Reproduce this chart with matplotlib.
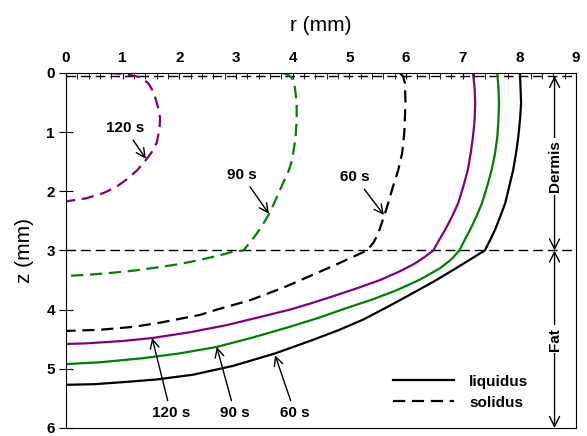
import matplotlib.pyplot as plt
from matplotlib.ticker import MultipleLocator

plt.rcParams['font.family'] = ['Liberation Sans', 'DejaVu Sans']

# solidus curves (r mm, z mm)
sol120_r = [0.76, 1.05, 1.31, 1.45, 1.55, 1.62, 1.66, 1.65, 1.60, 1.52, 1.41, 1.25, 1.07, 0.88, 0.66, 0.35, 0.07, 0.0]
sol120_z = [0.00, 0.02, 0.07, 0.17, 0.33, 0.57, 0.76, 0.95, 1.18, 1.33, 1.47, 1.65, 1.80, 1.93, 2.03, 2.12, 2.16, 2.17]
sol90_r = [3.83, 3.92, 3.99, 4.04, 4.07, 4.07, 4.05, 3.99, 3.93, 3.83, 3.72, 3.59, 3.48, 3.37, 3.25, 3.13,
           2.95, 2.72, 2.36, 2.00, 1.66, 1.20, 0.78, 0.40, 0.0]
sol90_z = [0.00, 0.03, 0.09, 0.25, 0.51, 0.80, 1.10, 1.47, 1.65, 1.86, 2.10, 2.37, 2.55, 2.71, 2.86, 3.00,
           3.02, 3.08, 3.16, 3.23, 3.28, 3.34, 3.38, 3.41, 3.43]
sol60_r = [5.89, 5.95, 5.98, 5.99, 5.97, 5.93, 5.86, 5.77, 5.70, 5.63, 5.51, 5.43, 5.31,
           4.83, 4.43, 3.83, 3.25, 2.66, 2.36, 1.66, 1.20, 0.60, 0.0]
sol60_z = [0.00, 0.06, 0.17, 0.51, 1.00, 1.36, 1.65, 1.92, 2.15, 2.37, 2.71, 2.86, 3.00,
           3.21, 3.38, 3.63, 3.84, 4.00, 4.09, 4.22, 4.29, 4.34, 4.36]

# liquidus curves
liq120_r = [7.18, 7.21, 7.22, 7.21, 7.18, 7.14, 7.09, 7.01, 6.92, 6.81, 6.69, 6.58, 6.48,
            6.30, 6.12, 5.85, 5.54, 5.10, 4.66, 4.30, 3.95, 3.40, 2.84, 2.20, 1.52, 1.00, 0.35, 0.0]
liq120_z = [0.00, 0.25, 0.51, 0.80, 1.08, 1.36, 1.64, 1.92, 2.20, 2.43, 2.65, 2.83, 3.00,
            3.13, 3.24, 3.37, 3.50, 3.65, 3.79, 3.90, 4.00, 4.13, 4.26, 4.38, 4.48, 4.53, 4.57, 4.58]
liq90_r = [7.61, 7.63, 7.64, 7.63, 7.61, 7.57, 7.51, 7.43, 7.34, 7.24, 7.13, 7.03, 6.94,
           6.80, 6.60, 6.25, 5.84, 5.40, 4.96, 4.45, 3.95, 3.30, 2.66, 2.00, 1.36, 0.60, 0.0]
liq90_z = [0.00, 0.25, 0.51, 0.80, 1.08, 1.36, 1.64, 1.92, 2.20, 2.43, 2.65, 2.83, 3.00,
           3.15, 3.30, 3.49, 3.67, 3.83, 3.97, 4.14, 4.29, 4.47, 4.63, 4.74, 4.82, 4.89, 4.92]
liq60_r = [8.01, 8.02, 8.03, 8.01, 7.98, 7.94, 7.89, 7.82, 7.75, 7.66, 7.57, 7.48, 7.39,
           7.10, 6.83, 6.48, 6.12, 5.68, 5.24, 4.80, 4.36, 3.69, 2.95, 2.24, 1.60, 1.08, 0.50, 0.0]
liq60_z = [0.00, 0.25, 0.51, 0.80, 1.08, 1.36, 1.64, 1.92, 2.20, 2.43, 2.65, 2.83, 3.00,
           3.17, 3.33, 3.53, 3.72, 3.95, 4.17, 4.35, 4.51, 4.74, 4.95, 5.10, 5.18, 5.22, 5.26, 5.27]

skin_top = 0.05
dermis_fat = 3.0

purple = '#800080'
green = '#008000'

fig = plt.figure(figsize=(5.87, 4.36), dpi=100)
ax = fig.add_axes([0.1124, 0.0184, 0.869, 0.8142])

ax.axhline(skin_top, color='black', lw=1, ls=(0, (7, 3.5)))
ax.axhline(dermis_fat, color='black', lw=1, ls=(0, (7, 3.5)))

dash = (0, (5.5, 3))
ax.plot(sol120_r, sol120_z, color=purple, lw=1.6, ls=dash)
ax.plot(sol90_r, sol90_z, color=green, lw=1.6, ls=dash)
ax.plot(sol60_r, sol60_z, color='black', lw=1.6, ls=dash)
ax.plot(liq120_r, liq120_z, color=purple, lw=1.6)
ax.plot(liq90_r, liq90_z, color=green, lw=1.6)
ax.plot(liq60_r, liq60_z, color='black', lw=1.6)

# legend (black proxies)
ax.plot([], [], color='black', lw=1.6, label='liquidus')
ax.plot([], [], color='black', lw=1.6, ls=dash, label='solidus')
ax.legend(loc='upper left', bbox_to_anchor=(0.641, 0.15), frameon=False,
          borderpad=0, borderaxespad=0, handlelength=4.0, handletextpad=1.0,
          labelspacing=0.45, prop={'weight': 'bold', 'size': 11})

arrow = dict(arrowstyle='->', lw=1, color='black', mutation_scale=16, shrinkA=2, shrinkB=0)
lab = dict(ha='center', va='center', fontsize=11, fontweight='bold')
ax.annotate('120 s', xy=(1.41, 1.45), xytext=(1.04, 0.93), arrowprops=arrow, **lab)
ax.annotate('90 s', xy=(3.58, 2.38), xytext=(3.10, 1.72), arrowprops=arrow, **lab)
ax.annotate('60 s', xy=(5.61, 2.40), xytext=(5.10, 1.76), arrowprops=arrow, **lab)
ax.annotate('120 s', xy=(1.52, 4.48), xytext=(1.85, 5.75), arrowprops=arrow, **lab)
ax.annotate('90 s', xy=(2.66, 4.63), xytext=(2.98, 5.75), arrowprops=arrow, **lab)
ax.annotate('60 s', xy=(3.69, 4.77), xytext=(4.04, 5.75), arrowprops=arrow, **lab)

# layer markers
layer = dict(arrowstyle='<->', lw=1, color='black', mutation_scale=18, shrinkA=0, shrinkB=0)
ax.annotate('', xy=(8.62, skin_top), xytext=(8.62, dermis_fat), arrowprops=layer)
ax.annotate('', xy=(8.62, dermis_fat), xytext=(8.62, 6.0), arrowprops=layer)
box = dict(fc='white', ec='none', pad=2)
ax.text(8.62, 1.58, 'Dermis', rotation=90, ha='center', va='center',
        fontsize=11, fontweight='bold', bbox=box)
ax.text(8.62, 4.5, 'Fat', rotation=90, ha='center', va='center',
        fontsize=11, fontweight='bold', bbox=box)

ax.set_xlim(0, 9)
ax.set_ylim(6, 0)
ax.xaxis.tick_top()
ax.xaxis.set_label_position('top')
ax.xaxis.set_major_locator(MultipleLocator(1))
ax.xaxis.set_minor_locator(MultipleLocator(0.2))
ax.yaxis.set_major_locator(MultipleLocator(1))
ax.tick_params(axis='x', which='major', direction='in', length=4, pad=6, labelsize=11)
ax.tick_params(axis='x', which='minor', direction='in', length=4)
ax.tick_params(axis='y', which='major', direction='inout', length=10, pad=3, labelsize=11)
for t in ax.get_xticklabels() + ax.get_yticklabels():
    t.set_fontweight('bold')
ax.set_xlabel('r (mm)', fontsize=15, labelpad=14)
ax.set_ylabel('z (mm)', fontsize=15, labelpad=9)

fig.savefig('out.png', dpi=100)
